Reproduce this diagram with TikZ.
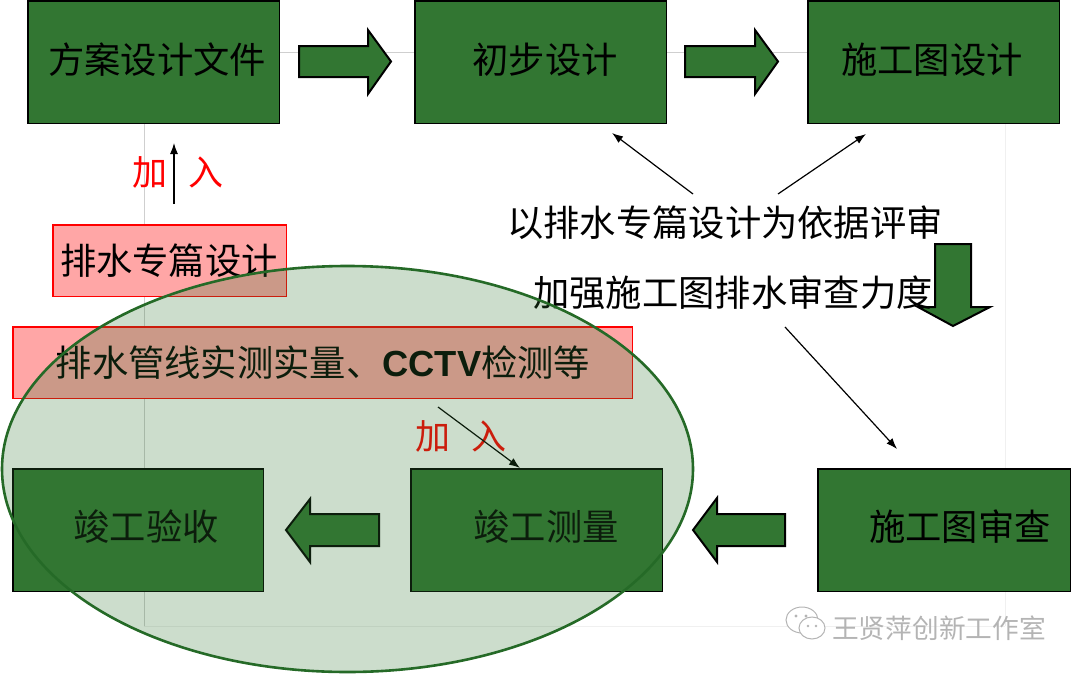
\documentclass[tikz,border=0pt]{standalone}
\usepackage{fontspec}
\setmainfont{Noto Sans CJK SC}
\newfontfamily\latinbold{Liberation Sans}[BoldFont={Liberation Sans Bold}]
\definecolor{boxgreen}{HTML}{327632}
\definecolor{ringgreen}{HTML}{256A27}
\definecolor{pinkfill}{HTML}{FFA6A6}
\definecolor{guide}{HTML}{CFCFCF}
\definecolor{faint}{HTML}{F0F0F0}
\definecolor{wmgray}{HTML}{B4B4B4}
\usetikzlibrary{arrows.meta}
\tikzset{
  stagebox/.style={rectangle,draw=black,line width=1.6pt,fill=boxgreen,inner sep=0pt,anchor=north west},
  pinkbox/.style={rectangle,draw=red,line width=1.5pt,fill=pinkfill,inner sep=0pt,anchor=north west},
  cn/.style={inner sep=0pt,font=\fontsize{36.3}{40}\selectfont,text=black},
  redcn/.style={cn,text=red,font=\fontsize{35}{38}\selectfont},
  blockarrow/.style={draw=black,line width=2pt,fill=boxgreen,line join=miter},
  thinarrow/.style={draw=black,line width=1.2pt,-{Latex[length=11pt,width=8pt]}},
}
\begin{document}
\begin{tikzpicture}[x=1pt,y=-1pt]
\useasboundingbox (0,0) rectangle (1080,675);
% faint guide lines
\draw[guide,line width=.8pt] (144,123) -- (144,626);
\draw[guide,line width=.8pt] (279,52) -- (807,52);
\draw[faint,line width=.8pt] (144,626) -- (1005,626);
\draw[faint,line width=.8pt] (1005,123) -- (1005,626);
% boxes
\node[stagebox,minimum width=251.5pt,minimum height=122.5pt] (a) at (27,0) {};
\node[stagebox,minimum width=251.5pt,minimum height=122.5pt] (b) at (414,0) {};
\node[stagebox,minimum width=251.5pt,minimum height=122.5pt] (c) at (807,0) {};
\node[stagebox,minimum width=252.5pt,minimum height=122.5pt] (d) at (817,468) {};
\node[stagebox,minimum width=251.5pt,minimum height=122.5pt] (e) at (410,468) {};
\node[stagebox,minimum width=250.5pt,minimum height=122.5pt] (f) at (12,468) {};
\node[pinkbox,minimum width=233.5pt,minimum height=71.5pt] (p1) at (52,224) {};
\node[pinkbox,minimum width=619.5pt,minimum height=71.5pt] (p2) at (12,326) {};
% box labels
\node[cn] (ta) at (157,60) {方案设计文件};
\node[cn] (tb) at (545,60) {初步设计};
\node[cn] (tc) at (932,60) {施工图设计};
\node[cn] (td) at (960,527) {施工图审查};
\node[cn] (te) at (546,527) {竣工测量};
\node[cn] (tf) at (146,527) {竣工验收};
\node[cn] (tp1) at (169,261) {排水专篇设计};
\node[cn] (tp2) at (323,363) {排水管线实测实量、{\latinbold\bfseries CCTV}检测等};
% block arrows
\draw[blockarrow] (299,46) -- (368,46) -- (368,30) -- (391,61.5) -- (368,94) -- (368,77) -- (299,77) -- cycle;
\draw[blockarrow] (685,46) -- (755,46) -- (755,30) -- (778,61.5) -- (755,94) -- (755,77) -- (685,77) -- cycle;
\draw[blockarrow] (935,244) -- (971,244) -- (971,307) -- (990,307) -- (953,326) -- (918,307) -- (935,307) -- cycle;
\draw[blockarrow] (379,514) -- (310,514) -- (310,499) -- (286,530) -- (310,562) -- (310,546) -- (379,546) -- cycle;
\draw[blockarrow] (785,514) -- (717,514) -- (717,498) -- (693,530) -- (717,562) -- (717,546) -- (785,546) -- cycle;
% middle text
\node[cn] (t1) at (725,223) {以排水专篇设计为依据评审};
\node[cn] (t2) at (733,293) {加强施工图排水审查力度};
% red labels
\node[redcn] (j1) at (178,172) {加\hspace{21pt}入};
\node[redcn] (j2) at (461,436) {加\hspace{21pt}入};
% thin arrows
\coordinate (s1) at (693,194); \coordinate (h1) at (612,133);
\coordinate (s2) at (778,194); \coordinate (h2) at (866,134);
\coordinate (s3) at (785,327); \coordinate (h3) at (897,449);
\coordinate (s4) at (174,204); \coordinate (h4) at (174,143);
\coordinate (s5) at (438,407); \coordinate (h5) at (520,468);
\draw[thinarrow] (s1) -- (h1);
\draw[thinarrow] (s2) -- (h2);
\draw[thinarrow] (s3) -- (h3);
\draw[thinarrow] (s4) -- (h4);
\draw[thinarrow] (s5) -- (h5);
% translucent ellipse
\fill[boxgreen,fill opacity=.25] (347.5,469) ellipse [x radius=345.5,y radius=203];
\draw[ringgreen,line width=2.6pt] (347.5,469) ellipse [x radius=345.5,y radius=203];
% watermark
\draw[wmgray,line width=1pt,fill=white] (802,620) ellipse [x radius=16,y radius=13];
\draw[wmgray,line width=1pt,fill=white] (812,628) ellipse [x radius=13,y radius=11];
\fill[wmgray] (796,616) circle (1.6) (806,616) circle (1.6) (808,626) circle (1.3) (816,626) circle (1.3);
\node[inner sep=0pt,text=wmgray,font=\fontsize{26.7}{30}\selectfont] (wm) at (939,628) {王贤萍创新工作室};
\end{tikzpicture}
\end{document}
